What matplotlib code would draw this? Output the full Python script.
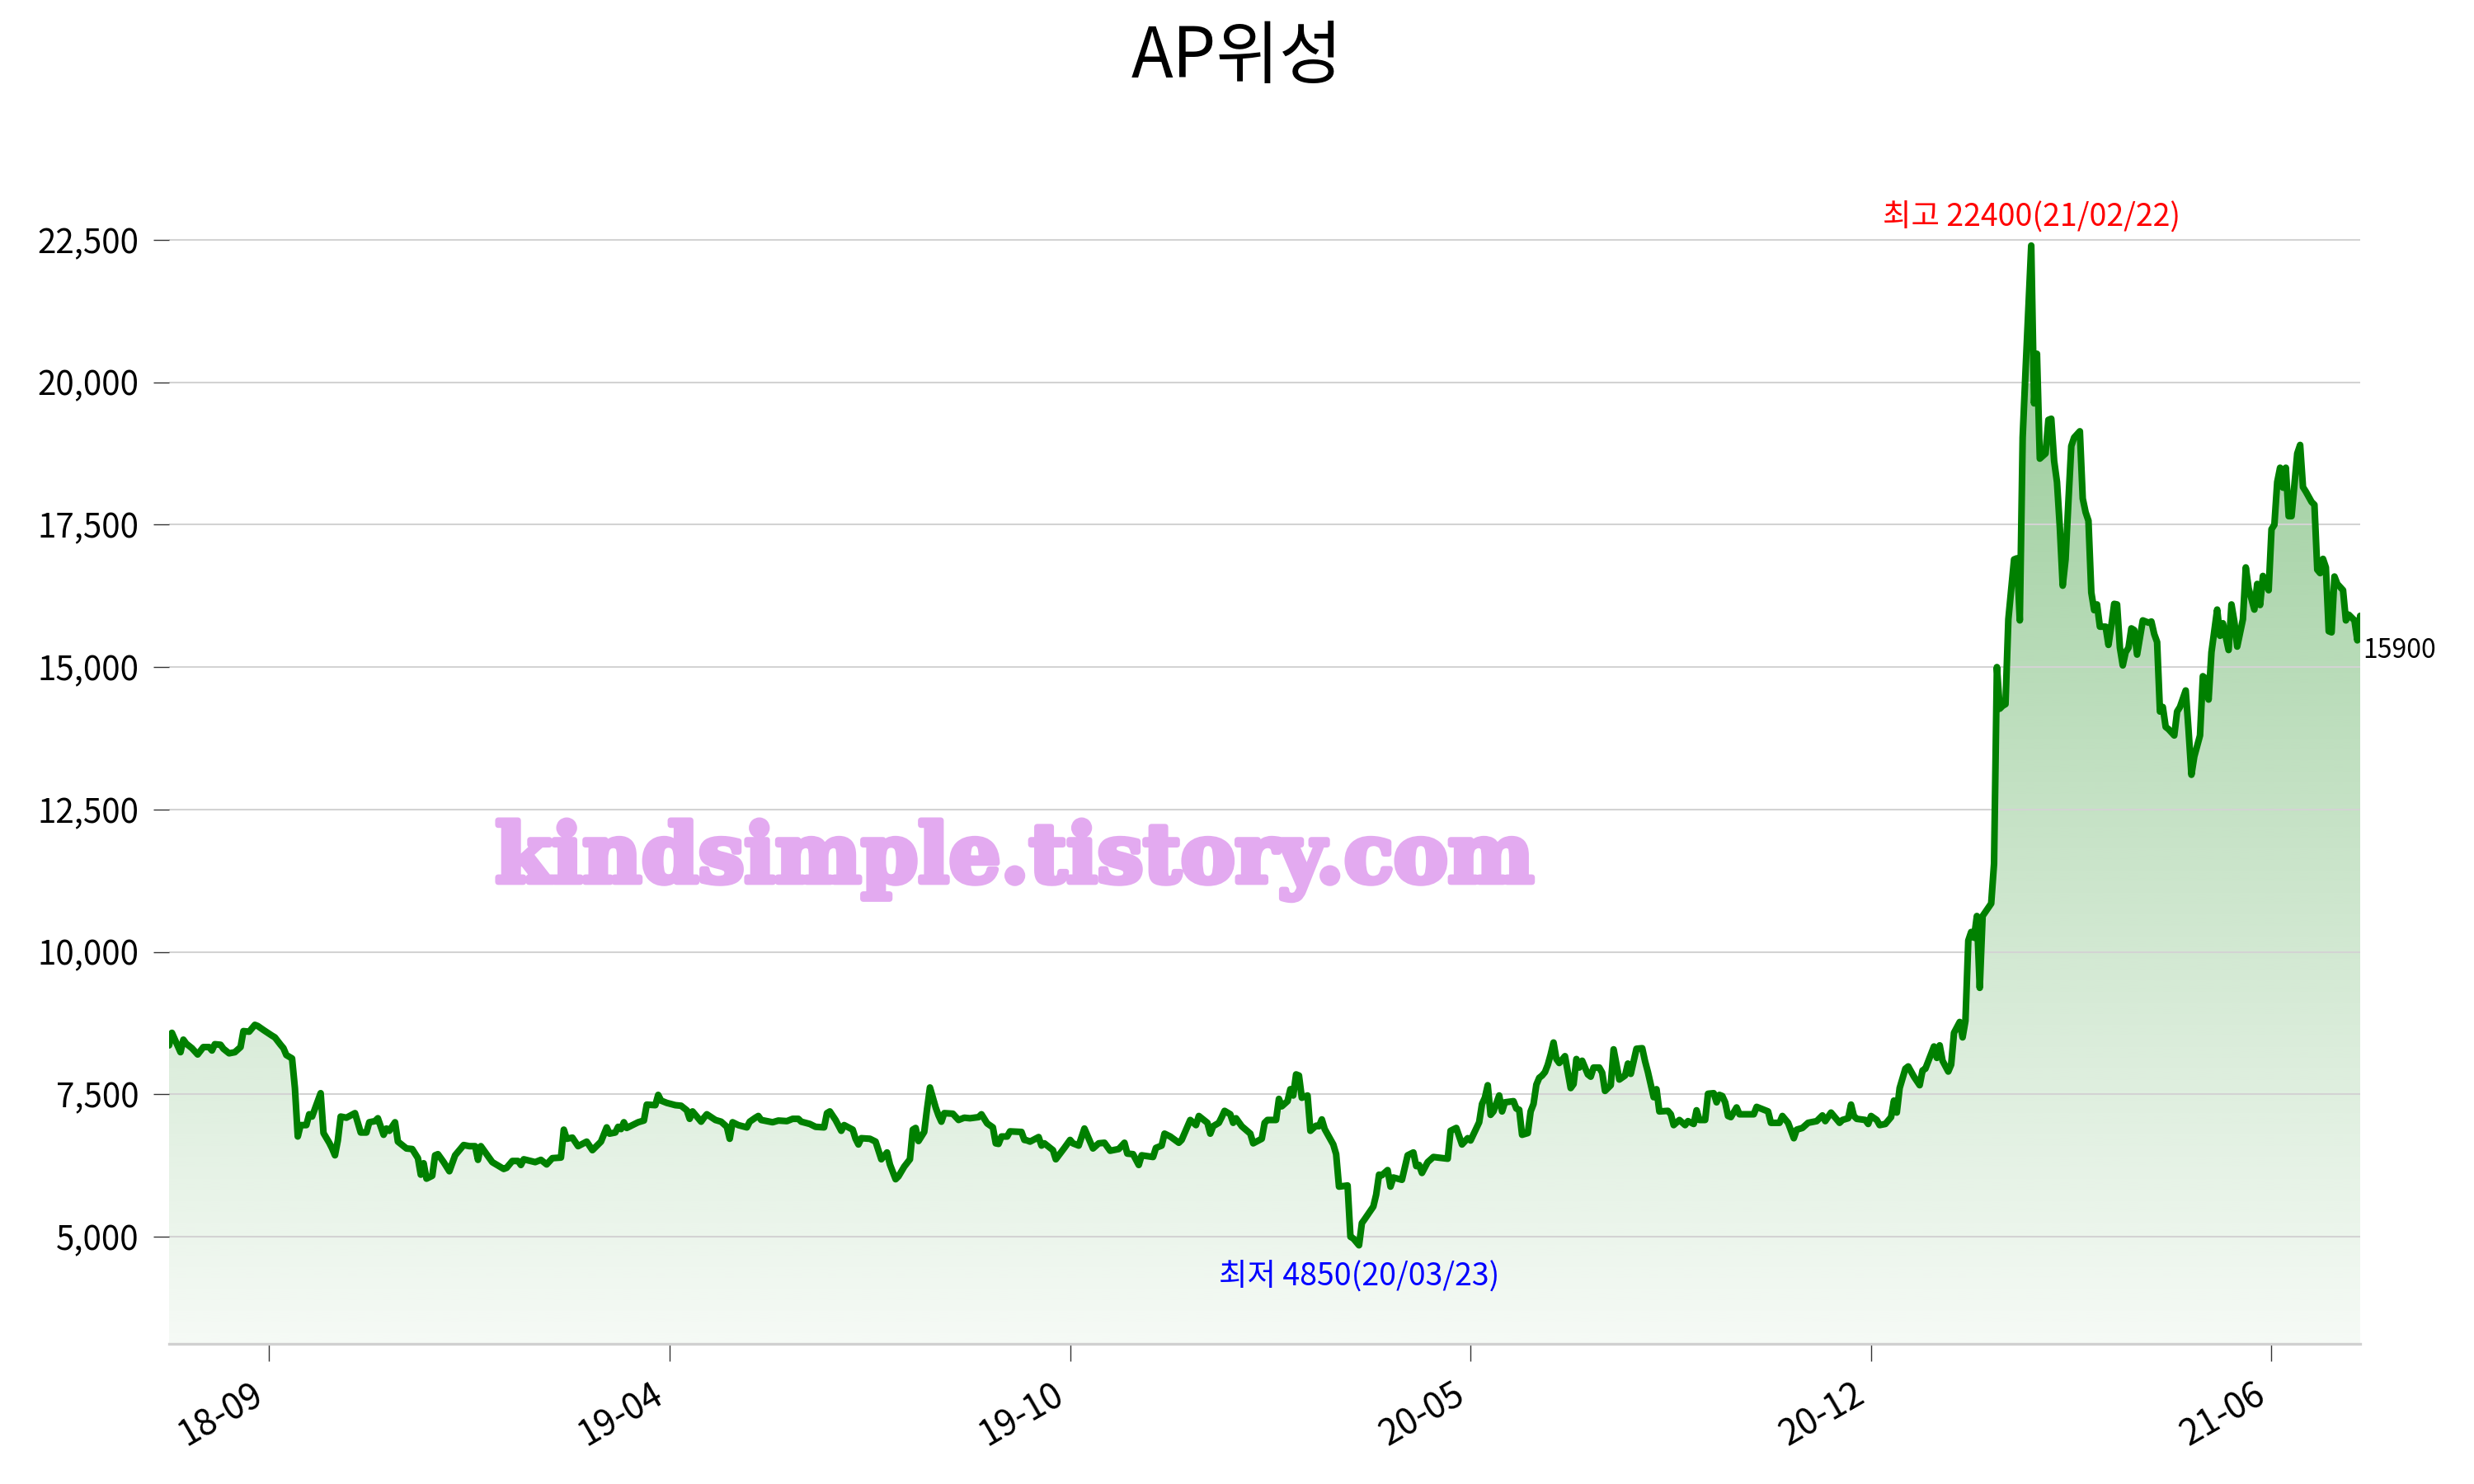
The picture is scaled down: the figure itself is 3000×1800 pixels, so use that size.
import numpy as np
import matplotlib
matplotlib.use('Agg')
import matplotlib.pyplot as plt
import matplotlib.patheffects as pe
from matplotlib.ticker import FuncFormatter
from matplotlib.patches import Polygon

plt.rcParams['font.family'] = ['Noto Sans CJK KR', 'DejaVu Sans']

# ---------------- data (trading-day index, closing price) ----------------
day = [0, 1, 4, 5, 6, 8, 10, 12, 14, 15, 16, 18, 19, 21, 23, 25, 26, 28, 30, 31,
       33, 36, 37, 39, 40, 41, 43, 44, 45, 46, 48, 49, 50, 53, 54, 56, 57, 58, 59, 60,
       62, 65, 67, 69, 70, 72, 73, 75, 76, 77, 79, 80, 83, 85, 87, 88, 89, 90, 92, 93,
       94, 96, 98, 100, 103, 105, 107, 108, 109, 111, 113, 117, 118, 120, 122, 123, 124, 128,
       130, 132, 134, 137, 138, 139, 141, 143, 146, 148, 151, 153, 154, 156, 157, 158, 159, 160,
       162, 164, 166, 167, 170, 171, 172, 174, 177, 179, 181, 182, 183, 186, 187, 188, 191, 193,
       195, 196, 197, 199, 202, 203, 205, 206, 207, 211, 213, 216, 218, 220, 221, 224, 226, 229,
       230, 231, 233, 235, 236, 239, 240, 241, 242, 245, 247, 249, 251, 252, 254, 255, 257, 259,
       260, 261, 262, 264, 265, 266, 268, 269, 270, 271, 274, 276, 278, 280, 283, 284, 286, 288,
       289, 290, 291, 293, 294, 298, 299, 300, 301, 304, 305, 306, 309, 310, 313, 315, 316, 318,
       320, 323, 325, 327, 329, 332, 334, 335, 337, 339, 340, 344, 345, 347, 348, 350, 353, 354,
       357, 359, 360, 363, 364, 365, 367, 368, 369, 371, 372, 373, 375, 378, 379, 382, 383, 384,
       387, 388, 389, 391, 392, 393, 394, 395, 396, 398, 399, 401, 402, 403, 404, 407, 408, 409,
       412, 413, 414, 416, 417, 418, 421, 422, 423, 424, 426, 427, 428, 431, 433, 435, 436, 437,
       438, 440, 442, 447, 448, 450, 452, 454, 455, 458, 459, 460, 461, 462, 463, 465, 466, 467,
       470, 471, 472, 473, 475, 476, 477, 478, 479, 480, 481, 482, 483, 484, 485, 486, 488, 490,
       491, 492, 493, 494, 496, 497, 498, 500, 501, 502, 504, 505, 507, 509, 510, 511, 513, 515,
       516, 517, 519, 520, 521, 524, 525, 526, 528, 530, 531, 533, 534, 535, 537, 538, 540, 541,
       542, 543, 544, 545, 546, 548, 549, 554, 555, 559, 560, 563, 564, 566, 568, 569, 571, 573,
       576, 578, 579, 581, 582, 584, 585, 587, 588, 589, 590, 593, 594, 595, 597, 598, 600, 602,
       603, 604, 605, 607, 608, 610, 612, 613, 614, 617, 618, 619, 620, 622, 623, 624, 626, 627,
       628, 629, 630, 631, 632, 633, 634, 637, 638, 639, 640, 641, 642, 643, 645, 646, 647, 648,
       649, 651, 652, 653, 654, 656, 657, 658, 659, 660, 661, 662, 663, 664, 665, 666, 668, 669,
       670, 671, 672, 673, 674, 675, 677, 678, 679, 680, 681, 682, 683, 684, 685, 686, 687, 688,
       690, 692, 693, 694, 695, 696, 697, 698, 699, 701, 702, 703, 705, 706, 707, 708, 710, 711,
       712, 713, 714, 716, 717, 718, 720, 721, 722, 723, 725, 726, 727, 729, 730, 731, 732, 734,
       735, 736, 737, 738, 739, 740, 741, 742, 744, 745, 746, 747, 749, 750, 751, 752, 753, 754,
       755, 756, 757, 758, 760, 761, 762, 764, 765, 766]

price = [8360, 8580, 8240, 8460, 8390, 8310, 8200, 8330, 8330, 8270, 8380, 8370, 8300, 8220, 8240, 8330, 8610, 8600, 8720, 8700,
         8630, 8530, 8500, 8370, 8310, 8190, 8130, 7610, 6760, 6960, 6960, 7150, 7110, 7520, 6820, 6650, 6550, 6430, 6690, 7110,
         7090, 7170, 6830, 6830, 7010, 7030, 7080, 6790, 6900, 6860, 7010, 6670, 6550, 6540, 6380, 6090, 6290, 6020, 6070, 6430,
         6450, 6310, 6150, 6430, 6610, 6590, 6590, 6350, 6590, 6450, 6310, 6190, 6210, 6330, 6330, 6260, 6360, 6310,
         6350, 6270, 6380, 6390, 6880, 6720, 6740, 6590, 6670, 6520, 6670, 6920, 6810, 6830, 6930, 6890, 7010, 6910,
         6960, 7010, 7040, 7320, 7310, 7490, 7390, 7350, 7310, 7300, 7220, 7070, 7200, 7020, 7090, 7150, 7050, 7020,
         6930, 6720, 7010, 6960, 6920, 7020, 7090, 7120, 7050, 7010, 7040, 7030, 7070, 7070, 7020, 6980, 6930, 6920,
         7170, 7200, 7050, 6860, 6960, 6880, 6720, 6620, 6730, 6720, 6670, 6360, 6480, 6270, 6010, 6060, 6230, 6360,
         6880, 6910, 6680, 6840, 7250, 7620, 7270, 7130, 7020, 7170, 7160, 7050, 7090, 7080, 7100, 7150, 6990, 6920,
         6640, 6630, 6760, 6760, 6850, 6840, 6700, 6690, 6670, 6750, 6600, 6640, 6520, 6360, 6560, 6700, 6640, 6600,
         6900, 6550, 6640, 6650, 6510, 6540, 6650, 6460, 6450, 6260, 6430, 6400, 6560, 6600, 6810, 6760, 6650, 6700,
         7050, 6960, 7120, 7000, 6810, 6940, 7000, 7100, 7210, 7150, 7000, 7080, 6940, 6810, 6640, 6720, 7000, 7050,
         7050, 7420, 7290, 7380, 7590, 7480, 7850, 7830, 7440, 7480, 6860, 6950, 6940, 7060, 6890, 6620, 6450, 5880,
         5900, 5000, 4970, 4850, 5240, 5310, 5530, 5740, 6090, 6080, 6170, 5880, 6040, 6000, 6430, 6480, 6240, 6260,
         6120, 6310, 6400, 6370, 6860, 6910, 6620, 6730, 6690, 7010, 7330, 7440, 7660, 7140, 7200, 7480, 7200, 7360,
         7380, 7250, 7230, 6790, 6820, 7200, 7330, 7670, 7790, 7830, 7890, 8020, 8200, 8410, 8120, 8050, 8170, 7610,
         7680, 8120, 7970, 8090, 7850, 7810, 7970, 7970, 7880, 7560, 7660, 8290, 7760, 7830, 8040, 7860, 8300, 8310,
         8080, 7890, 7450, 7590, 7200, 7210, 7150, 6960, 7050, 6960, 7030, 6980, 7220, 7050, 7050, 7510, 7520, 7360,
         7490, 7470, 7360, 7120, 7100, 7270, 7150, 7150, 7280, 7200, 7000, 7000, 7120, 7000, 6730, 6880, 6910, 7000,
         7030, 7130, 7030, 7180, 7120, 7000, 7050, 7080, 7320, 7120, 7070, 7050, 6980, 7120, 7050, 6960, 6980, 7100,
         7390, 7180, 7610, 7950, 7990, 7810, 7660, 7920, 7950, 8340, 8140, 8360, 8090, 7900, 8020, 8580, 8770, 8500,
         8790, 10200, 10350, 10250, 10630, 9370, 10630, 10850, 11550, 15000, 14270, 14320, 14350, 15840, 16890, 16910, 15820, 19030,
         20190, 22400, 19630, 20500, 18660, 18750, 19340, 19360, 18620, 18250, 17450, 16430, 16890, 17910, 18880, 19030, 19140, 17960,
         17720, 17570, 16310, 16000, 16100, 15710, 15710, 15390, 15730, 16110, 16100, 15340, 15030, 15260, 15340, 15680, 15650, 15220,
         15820, 15780, 15800, 15580, 15440, 14220, 14300, 13950, 13910, 13800, 14220, 14300, 14590, 13890, 13110, 13430, 13800, 14840,
         14800, 14430, 15260, 16010, 15550, 15770, 15300, 16100, 15800, 15360, 15840, 16750, 16380, 16010, 16460, 16090, 16600, 16350,
         17420, 17500, 18250, 18500, 18150, 18500, 17650, 17650, 18750, 18900, 18160, 18080, 17900, 17850, 16710, 16650, 16900, 16750,
         15630, 15610, 16590, 16460, 16350, 15820, 15920, 15820, 15470, 15900]

tick_days = [35, 175, 315, 455, 595, 735]
tick_labels = ['18-09', '19-04', '19-10', '20-05', '20-12', '21-06']
y_ticks = [5000, 7500, 10000, 12500, 15000, 17500, 20000, 22500]
title = 'AP위성'
high_date = '21/02/22'
low_date = '20/03/23'
watermark = 'kindsimple.tistory.com'

# ---------------- figure ----------------
W, H = 3000, 1800
fig = plt.figure(figsize=(15, 9), dpi=200)
ax = fig.add_axes([205 / W, 1 - 1630 / H, (2862 - 205) / W, (1630 - 150) / H])

ymin, ymax = 3120, 24540
day_a = np.array(day)
price_a = np.array(price)

# gradient fill under the line
n = 256
img = np.zeros((n, 1, 4))
img[..., 1] = 128 / 255
img[..., 3] = np.linspace(0.04, 0.43, n)[:, None]
im = ax.imshow(img, extent=[day_a[0], day_a[-1], ymin, price_a.max()],
               origin='lower', aspect='auto', zorder=1, interpolation='bilinear')
verts = [(day_a[0], ymin)] + list(zip(day_a, price_a)) + [(day_a[-1], ymin)]
poly = Polygon(verts, closed=True, facecolor='none', edgecolor='none')
ax.add_patch(poly)
im.set_clip_path(poly)

ax.plot(day_a, price_a, color='#008000', lw=2.9, solid_joinstyle='round',
        solid_capstyle='round', zorder=3)

ax.set_xlim(day_a[0], day_a[-1])
ax.set_ylim(ymin, ymax)

# grid & spines
ax.set_yticks(y_ticks)
ax.yaxis.set_major_formatter(FuncFormatter(lambda v, p: f'{int(v):,}'))
ax.set_axisbelow('line')
ax.yaxis.grid(True, color='#d3d3d3', lw=0.75)
for s in ['top', 'right', 'left']:
    ax.spines[s].set_visible(False)
ax.spines['bottom'].set_color('#d0d0d0')
ax.spines['bottom'].set_linewidth(1.2)

ax.set_xticks(tick_days)
ax.set_xticklabels(tick_labels)
ax.tick_params(axis='x', length=7.5, width=0.5, color='#333333', pad=7,
               labelsize=15.5, rotation=30)
for lab in ax.get_xticklabels():
    lab.set_ha('right')
ax.tick_params(axis='y', length=7, width=0.5, color='#333333', pad=6, labelsize=14.5)

# title
fig.text(0.5, 1 - 70 / H, title, ha='center', va='center', fontsize=30)

# annotations
hi = int(np.argmax(price_a))
lo = int(np.argmin(price_a))
ax.annotate(f'최고 {price_a[hi]}({high_date})', xy=(day_a[hi], price_a[hi]),
            xytext=(0, 5), textcoords='offset points', ha='center', va='bottom',
            color='red', fontsize=13.5, zorder=5)
ax.annotate(f'최저 {price_a[lo]}({low_date})', xy=(day_a[lo], price_a[lo]),
            xytext=(0, -7), textcoords='offset points', ha='center', va='top',
            color='blue', fontsize=13.5, zorder=5)
ax.annotate(f'{price_a[-1]}', xy=(day_a[-1], price_a[-1]),
            xytext=(1, -15), textcoords='offset points', ha='left', va='center',
            color='black', fontsize=11.5, annotation_clip=False)

# watermark
ax.text(0.386, 0.3967, watermark, transform=ax.transAxes, ha='center', va='center',
        fontsize=35.5, family='DejaVu Serif', weight='bold', color='#E3AAF0', zorder=4,
        path_effects=[pe.withStroke(linewidth=2.5, foreground='#E3AAF0')])

fig.savefig('out.png', dpi=200)
